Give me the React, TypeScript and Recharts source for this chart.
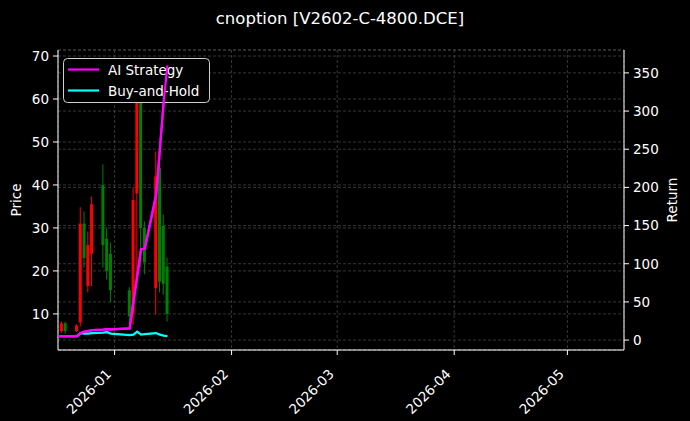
import React from 'react';
import { ComposedChart, Bar, Line, XAxis, YAxis, CartesianGrid, Customized } from 'recharts';

const dates = [
  '2025-12-17', '2025-12-18', '2025-12-19', '2025-12-22', '2025-12-23', '2025-12-24', '2025-12-25',
  '2025-12-26', '2025-12-29', '2025-12-30', '2025-12-31', '2026-01-05', '2026-01-06', '2026-01-07',
  '2026-01-08', '2026-01-09', '2026-01-12', '2026-01-13', '2026-01-14', '2026-01-15',
];
const open = [null, 6.0, 7.8, 6.0, 8.0, 31.0, 16.5, 24.0, 40.0, 27.5, 24.0, 15.5, 10.0, 38.0, 61.0, 30.0, 16.0, 44.0, 30.5, 21.0];
const high = [null, 8.3, 8.2, 7.6, 34.8, 33.8, 29.2, 37.3, 44.8, 30.1, 26.6, 16.2, 39.4, 63.0, 66.0, 31.5, 47.8, 46.4, 33.1, 23.1];
const low = [null, 5.6, 5.4, 5.8, 7.1, 20.8, 15.0, 16.4, 20.8, 18.0, 12.7, 7.5, 7.5, 16.9, 20.8, 19.2, 9.9, 15.0, 14.5, 8.2];
const close = [null, 7.8, 6.0, 7.3, 31.0, 23.0, 26.0, 35.5, 26.0, 20.0, 15.5, 9.5, 36.5, 60.0, 30.0, 22.0, 42.0, 17.5, 17.0, 10.0];
const aiReturn = [5.2, 5.2, 5.2, 5.2, 9.2, 11.0, 11.8, 13.0, 13.8, 14.4, 14.0, 15.3, 50.5, 84, 119, 120, 190, 250, 312, 360];
const bhReturn = [5.2, 5.2, 5.2, 5.2, 9.2, 8.5, 8.5, 9.2, 9.8, 10.3, 8.5, 6.6, 7.2, 11.1, 7.2, 7.9, 9.2, 7.2, 5.9, 5.2];

const monthTicks = ['2026-01-01', '2026-02-01', '2026-03-01', '2026-04-01', '2026-05-01'];
const priceTicks = [10, 20, 30, 40, 50, 60, 70];
const returnTicks = [0, 50, 100, 150, 200, 250, 300, 350];

const toTs = (s: string) => Date.UTC(+s.slice(0, 4), +s.slice(5, 7) - 1, +s.slice(8, 10));

const data = dates.map((d, i) => ({
  t: toTs(d),
  o: open[i],
  h: high[i],
  l: low[i],
  c: close[i],
  range: high[i] == null ? null : [low[i], high[i]],
  ai: aiReturn[i],
  bh: bhReturn[i],
}));

const FONT = 'DejaVu Sans, sans-serif';
const UP = '#ff0000';
const DOWN = '#008000';
const X_DOMAIN = [toTs('2025-12-17'), toTs('2026-05-16')];
const PRICE_DOMAIN = [1.6, 71.4];
const RETURN_DOMAIN = [-13, 380];

const Candle = (props: any) => {
  const { x, y, width, height, payload } = props;
  if (!payload || payload.h == null) return null;
  const top = Math.min(y, y + height);
  const h = Math.abs(height);
  const k = h / (payload.h - payload.l);
  const cx = x + width / 2;
  const bTop = top + (payload.h - Math.max(payload.o, payload.c)) * k;
  const bBot = top + (payload.h - Math.min(payload.o, payload.c)) * k;
  const color = payload.c >= payload.o ? UP : DOWN;
  return (
    <g>
      <line x1={cx} x2={cx} y1={top} y2={top + h} stroke={color} strokeWidth={1} />
      <rect x={cx - 1.5} y={bTop} width={3} height={Math.max(bBot - bTop, 1)} fill={color} />
    </g>
  );
};

const XTick = ({ x, y, payload }: any) => {
  const d = new Date(payload.value);
  const label = `${d.getUTCFullYear()}-${String(d.getUTCMonth() + 1).padStart(2, '0')}`;
  const px = x - 2.5;
  const py = y + 18;
  return (
    <text x={px} y={py} transform={`rotate(-45 ${px} ${py})`} textAnchor="end" fill="#fff" fontSize={13.5} fontFamily={FONT}>
      {label}
    </text>
  );
};

const Titles = () => (
  <g fontFamily={FONT}>
    <text x={340} y={24} textAnchor="middle" fill="#fff" fontSize={16.5}>cnoption [V2602-C-4800.DCE]</text>
    <text transform="translate(21 200) rotate(-90)" textAnchor="middle" fill="#fff" fontSize={13.5}>Price</text>
    <text transform="translate(677 200) rotate(-90)" textAnchor="middle" fill="#fff" fontSize={13.5}>Return</text>
  </g>
);

const abs: React.CSSProperties = { position: 'absolute', left: 0, top: 0 };

export default function App() {
  const axisProps = {
    axisLine: { stroke: '#fff' },
    tickLine: { stroke: '#fff' },
    tickSize: 5,
    tick: { fill: '#fff', fontSize: 13.5, fontFamily: FONT },
  };
  return (
    <div style={{ ...abs, width: 690, height: 421, background: '#000' }}>
      {/* main chart: grid, axes, candles, return lines */}
      <div style={abs}>
        <ComposedChart width={690} height={421} data={data} margin={{ top: 50, right: 0, bottom: 0, left: 0 }}>
          <CartesianGrid yAxisId="left" stroke="#4d4d4d" strokeDasharray="3 2" strokeWidth={0.7} />
          <CartesianGrid yAxisId="right" vertical={false} stroke="#4d4d4d" strokeDasharray="3 2" strokeWidth={0.7} />
          <XAxis
            dataKey="t"
            type="number"
            scale="time"
            domain={X_DOMAIN}
            ticks={monthTicks.map(toTs)}
            interval={0}
            allowDataOverflow
            height={71}
            tickMargin={2}
            tick={<XTick />}
            axisLine={{ stroke: '#fff' }}
            tickLine={{ stroke: '#fff' }}
            tickSize={5}
          />
          <XAxis xAxisId="top" orientation="top" dataKey="t" type="number" domain={X_DOMAIN} height={0} tick={false} tickLine={false} axisLine={{ stroke: '#fff' }} />
          <YAxis yAxisId="left" orientation="left" width={58} domain={PRICE_DOMAIN} ticks={priceTicks} interval={0} allowDataOverflow tickMargin={4} {...axisProps} />
          <YAxis yAxisId="right" orientation="right" width={66} domain={RETURN_DOMAIN} ticks={returnTicks} interval={0} allowDataOverflow tickMargin={4} {...axisProps} />
          <Bar yAxisId="left" dataKey="range" barSize={3} shape={<Candle />} isAnimationActive={false} />
          <Customized component={Titles} />
          <Line yAxisId="right" dataKey="ai" stroke="#ff00ff" strokeWidth={2.2} dot={false} type="linear" isAnimationActive={false} />
          <Line yAxisId="right" dataKey="bh" stroke="#00ffff" strokeWidth={2.2} dot={false} type="linear" isAnimationActive={false} />
        </ComposedChart>
      </div>

      {/* legend box, covering the candles behind it */}
      <svg width={690} height={421} style={abs}>
        <g fontFamily={FONT}>
          <rect x={63.5} y={58.5} width={146} height={44} rx={4} fill="#000" stroke="#d0d0d0" strokeWidth={1} />
          <line x1={68} x2={99} y1={69.5} y2={69.5} stroke="#ff00ff" strokeWidth={2.2} />
          <line x1={68} x2={99} y1={90.5} y2={90.5} stroke="#00ffff" strokeWidth={2.2} />
          <text x={108} y={75} fill="#fff" fontSize={13.5}>AI Strategy</text>
          <text x={108} y={96} fill="#fff" fontSize={13.5}>Buy-and-Hold</text>
        </g>
      </svg>

      {/* the return line sits on the twin axis, above the legend: same plot box, axes hidden */}
      <div style={{ ...abs, pointerEvents: 'none' }}>
        <ComposedChart width={690} height={421} data={data} margin={{ top: 50, right: 66, bottom: 71, left: 58 }}>
          <XAxis dataKey="t" type="number" scale="time" domain={X_DOMAIN} allowDataOverflow hide />
          <YAxis yAxisId="right" domain={RETURN_DOMAIN} allowDataOverflow hide />
          <Line yAxisId="right" dataKey="ai" stroke="#ff00ff" strokeWidth={2.2} dot={false} type="linear" isAnimationActive={false} />
        </ComposedChart>
      </div>
    </div>
  );
}
